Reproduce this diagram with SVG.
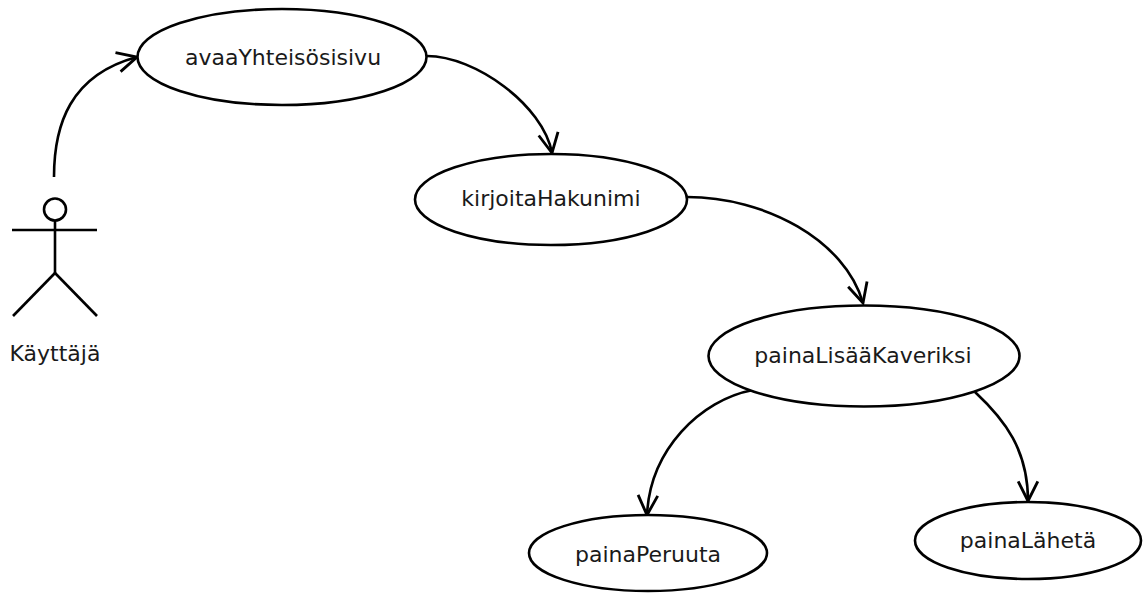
<svg xmlns="http://www.w3.org/2000/svg" width="1144" height="593" viewBox="0 0 1144 593">
  <style>
    .uc { fill: #ffffff; stroke: #000000; stroke-width: 2.6; }
    .lbl { font-family: "DejaVu Sans", Verdana, sans-serif; font-size: 22px; fill: #1a1a1a; text-anchor: middle; }
    .edge { fill: none; stroke: #000000; stroke-width: 2.6; }
    .actor { fill: none; stroke: #000000; stroke-width: 2.6; }
  </style>
  <defs>
    <marker id="open" markerUnits="userSpaceOnUse" markerWidth="24" markerHeight="24" viewBox="-20 -11 22 22" refX="0" refY="0" orient="auto" overflow="visible">
      <path d="M-18,-9 L0,0 L-18,9" fill="none" stroke="#000000" stroke-width="2.6" stroke-linejoin="miter"/>
    </marker>
  </defs>
  <rect width="1144" height="593" fill="#ffffff"/>

  <g id="connectors">
    <path class="edge" d="M54,177 C54,125 70,75 137,57" marker-end="url(#open)"/>
    <path class="edge" d="M427,56 C475,56 543,105 552,153" marker-end="url(#open)"/>
    <path class="edge" d="M687,197 C765,197 845,240 863,303" marker-end="url(#open)"/>
    <path class="edge" d="M753,390 C700,400 650,450 647,515" marker-end="url(#open)"/>
    <path class="edge" d="M975,392 C1005,420 1028,450 1028,501" marker-end="url(#open)"/>
  </g>

  <g id="actor-kayttaja">
    <circle class="actor" cx="55" cy="209.5" r="11"/>
    <line class="actor" x1="55" y1="220.5" x2="55" y2="273"/>
    <line class="actor" x1="12" y1="230" x2="97" y2="230"/>
    <line class="actor" x1="55" y1="273" x2="13" y2="316"/>
    <line class="actor" x1="55" y1="273" x2="97" y2="316"/>
    <text class="lbl" x="55" y="360.5">Käyttäjä</text>
  </g>

  <g id="uc-avaaYhteisosisivu">
    <ellipse class="uc" cx="282" cy="57" rx="144.5" ry="48"/>
    <text class="lbl" x="283" y="64.5">avaaYhteisösisivu</text>
  </g>

  <g id="uc-kirjoitaHakunimi">
    <ellipse class="uc" cx="551" cy="199.5" rx="136" ry="45.5"/>
    <text class="lbl" x="551" y="206">kirjoitaHakunimi</text>
  </g>

  <g id="uc-painaLisaaKaveriksi">
    <ellipse class="uc" cx="864" cy="356" rx="155.5" ry="50.5"/>
    <text class="lbl" x="863" y="363">painaLisääKaveriksi</text>
  </g>

  <g id="uc-painaPeruuta">
    <ellipse class="uc" cx="648" cy="553" rx="119" ry="38"/>
    <text class="lbl" x="648" y="562">painaPeruuta</text>
  </g>

  <g id="uc-painaLaheta">
    <ellipse class="uc" cx="1028" cy="540.5" rx="113" ry="38.5"/>
    <text class="lbl" x="1028" y="547.5">painaLähetä</text>
  </g>
</svg>
